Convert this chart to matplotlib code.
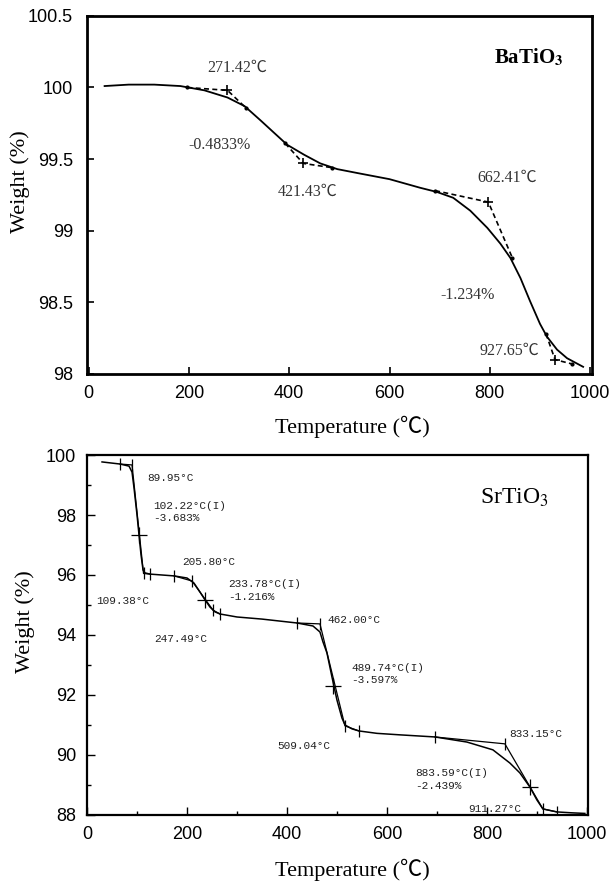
import matplotlib
matplotlib.use("Agg")
import matplotlib.pyplot as plt
from matplotlib.ticker import MultipleLocator, FixedLocator

plt.rcParams["mathtext.fontset"] = "stix"

SERIF = ["Liberation Serif", "Noto Sans CJK JP"]
SANS = "Liberation Sans"
MONO = "Liberation Mono"

# BaTiO3 TGA curve
temp_ba = [32, 80, 131, 183, 231, 277, 311, 343, 371, 396, 430, 462, 496, 540, 600,
           661, 695, 727, 761, 795, 821, 841, 861, 880, 900, 914, 934, 954, 970, 986]
weight_ba = [100.01, 100.02, 100.02, 100.01, 99.98, 99.93, 99.87, 99.77, 99.68, 99.60,
             99.53, 99.47, 99.43, 99.40, 99.36, 99.30, 99.27, 99.23, 99.14, 99.02,
             98.91, 98.81, 98.67, 98.51, 98.35, 98.26, 98.17, 98.11, 98.08, 98.05]

# BaTiO3 dashed tangent constructions (start, onset marker, end)
tan_ba_x = [[197, 277, 313], [392, 428, 486], [691, 797, 845], [912, 930, 964]]
tan_ba_y = [[100.0, 99.98, 99.86], [99.61, 99.47, 99.44], [99.28, 99.20, 98.81], [98.28, 98.10, 98.07]]

# SrTiO3 TGA curve
temp_sr = [30, 66, 84, 90, 94, 100, 104, 108, 112, 116, 126, 174, 200, 214, 226, 236, 246,
           256, 266, 300, 350, 420, 452, 466, 472, 480, 490, 500, 510, 516, 530, 544, 580,
           626, 696, 760, 812, 846, 866, 886, 900, 912, 940, 970, 996]
weight_sr = [99.77, 99.70, 99.63, 99.43, 98.9, 98.0, 97.33, 96.67, 96.17, 96.07, 96.03,
             95.97, 95.9, 95.73, 95.43, 95.17, 94.93, 94.77, 94.70, 94.6, 94.53, 94.40,
             94.30, 94.10, 93.77, 93.40, 92.60, 91.83, 91.23, 91.0, 90.87, 90.80, 90.72,
             90.67, 90.60, 90.43, 90.17, 89.73, 89.40, 88.93, 88.50, 88.20, 88.10, 88.07, 88.05]

# SrTiO3 tangent constructions
tan_sr_x = [[66, 90, 113, 126], [174, 210, 252, 266], [420, 466, 516, 544], [696, 836, 912, 940]]
tan_sr_y = [[99.70, 99.67, 96.05, 96.03], [95.97, 95.80, 94.83, 94.70],
            [94.40, 94.37, 90.97, 90.80], [90.60, 90.37, 88.20, 88.10]]
infl_sr_x = [104, 236, 492, 886]
infl_sr_y = [97.33, 95.17, 92.30, 88.93]

fig = plt.figure(figsize=(6.13, 8.81), dpi=100)

# ---- BaTiO3 ----
ax1 = fig.add_axes([0.142, 0.5755, 0.824, 0.4065])
ax1.plot(temp_ba, weight_ba, color="black", lw=1.3)
for xs, ys in zip(tan_ba_x, tan_ba_y):
    ax1.plot(xs, ys, color="black", lw=1.2, ls=(0, (3, 2)))
    ax1.plot(xs[1], ys[1], marker="+", color="black", ms=7, mew=1.2)
    ax1.plot([xs[0], xs[2]], [ys[0], ys[2]], ls="none", marker="o", ms=2, color="black")

ax1.set_xlim(-3, 1004)
ax1.set_ylim(98, 100.5)
ax1.xaxis.set_major_locator(FixedLocator([0, 200, 400, 600, 800, 1000]))
ax1.yaxis.set_major_locator(FixedLocator([98, 98.5, 99, 99.5, 100, 100.5]))
ax1.set_yticklabels(["98", "98.5", "99", "99.5", "100", "100.5"])
ax1.tick_params(axis="x", direction="in", length=5, width=1.2, pad=8, labelsize=13)
ax1.tick_params(axis="y", direction="in", length=5, width=1.2, pad=10, labelsize=13)
for lab in ax1.get_xticklabels() + ax1.get_yticklabels():
    lab.set_fontfamily(SANS)
for s in ax1.spines.values():
    s.set_linewidth(2)

tcol = "#333333"
ax1.text(297, 100.14, "271.42℃", ha="center", va="center", fontsize=11.5, family=SERIF, color=tcol)
ax1.text(261, 99.6, "-0.4833%", ha="center", va="center", fontsize=11.5, family=SERIF, color=tcol)
ax1.text(437, 99.27, "421.43℃", ha="center", va="center", fontsize=11.5, family=SERIF, color=tcol)
ax1.text(835, 99.37, "662.41℃", ha="center", va="center", fontsize=11.5, family=SERIF, color=tcol)
ax1.text(755, 98.55, "-1.234%", ha="center", va="center", fontsize=11.5, family=SERIF, color=tcol)
ax1.text(839, 98.16, "927.65℃", ha="center", va="center", fontsize=11.5, family=SERIF, color=tcol)
ax1.text(877, 100.21, r"BaTiO$_\mathbf{3}$", ha="center", va="center", fontsize=15,
         family=SERIF, fontweight="bold")

fig.text(20 / 613, 1 - 182 / 881, "Weight (%)", rotation=90, ha="center", va="center",
         fontsize=16, family=SERIF)
fig.text(352 / 613, 1 - 427 / 881, "Temperature (℃)", ha="center", va="center",
         fontsize=16, family=SERIF)

# ---- SrTiO3 ----
ax2 = fig.add_axes([0.142, 0.075, 0.817, 0.4085])
ax2.plot(temp_sr, weight_sr, color="black", lw=1.1)
for xs, ys in zip(tan_sr_x, tan_sr_y):
    ax2.plot(xs, ys, color="black", lw=0.9)
    ax2.plot(xs, ys, ls="none", marker="|", ms=8, mew=0.9, color="black")
ax2.plot(infl_sr_x, infl_sr_y, ls="none", marker="+", ms=12, mew=0.9, color="black")

ax2.set_xlim(0, 1002)
ax2.set_ylim(88, 100)
ax2.xaxis.set_major_locator(MultipleLocator(200))
ax2.xaxis.set_minor_locator(MultipleLocator(100))
ax2.yaxis.set_major_locator(MultipleLocator(2))
ax2.yaxis.set_minor_locator(MultipleLocator(1))
ax2.tick_params(which="both", direction="in", width=1.0, labelsize=13)
ax2.tick_params(which="major", length=6, pad=8)
ax2.tick_params(which="minor", length=3)
for lab in ax2.get_xticklabels() + ax2.get_yticklabels():
    lab.set_fontfamily(SANS)
for s in ax2.spines.values():
    s.set_linewidth(1.6)

mcol = "#222222"
kw = dict(ha="left", va="center", fontsize=8, family=MONO, color=mcol)
ax2.text(120, 99.23, "89.95°C", **kw)
ax2.text(132, 98.1, "102.22°C(I)\n-3.683%", linespacing=1.3, **kw)
ax2.text(190, 96.43, "205.80°C", **kw)
ax2.text(282, 95.48, "233.78°C(I)\n-1.216%", linespacing=1.3, **kw)
ax2.text(18, 95.13, "109.38°C", **kw)
ax2.text(134, 93.87, "247.49°C", **kw)
ax2.text(380, 90.3, "509.04°C", **kw)
ax2.text(480, 94.5, "462.00°C", **kw)
ax2.text(528, 92.7, "489.74°C(I)\n-3.597%", linespacing=1.3, **kw)
ax2.text(844, 90.7, "833.15°C", **kw)
ax2.text(656, 89.18, "883.59°C(I)\n-2.439%", linespacing=1.3, **kw)
ax2.text(762, 88.2, "911.27°C", **kw)
ax2.text(854, 98.57, r"SrTiO$_3$", ha="center", va="center", fontsize=17, family=SERIF)

fig.text(25 / 613, 1 - 622 / 881, "Weight (%)", rotation=90, ha="center", va="center",
         fontsize=16, family=SERIF)
fig.text(352 / 613, 1 - 870 / 881, "Temperature (℃)", ha="center", va="center",
         fontsize=16, family=SERIF)

fig.savefig("out.png", dpi=100)
